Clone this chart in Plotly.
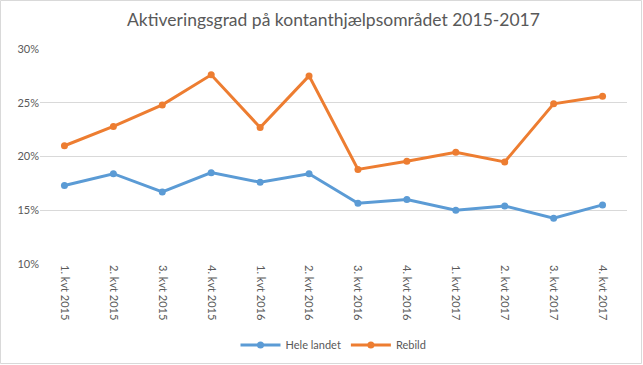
import plotly.graph_objects as go

categories = ["1. kvt 2015", "2. kvt 2015", "3. kvt 2015", "4. kvt 2015",
              "1. kvt 2016", "2. kvt 2016", "3. kvt 2016", "4. kvt 2016",
              "1. kvt 2017", "2. kvt 2017", "3. kvt 2017", "4. kvt 2017"]
hele_landet = [0.173, 0.184, 0.167, 0.185, 0.176, 0.184, 0.1565, 0.160, 0.150, 0.154, 0.1425, 0.155]
rebild = [0.210, 0.228, 0.248, 0.276, 0.227, 0.275, 0.188, 0.1955, 0.204, 0.195, 0.249, 0.256]
y_ticks = [0.10, 0.15, 0.20, 0.25, 0.30]

W, H = 643, 365
ml, mr, mt, mb = 40, 16, 49, 101
pw, ph = W - ml - mr, H - mt - mb

fig = go.Figure()
fig.add_trace(go.Scatter(x=categories, y=hele_landet, name="Hele landet",
                         mode="lines+markers",
                         line=dict(color="#5B9BD5", width=3),
                         marker=dict(size=7, color="#5B9BD5")))
fig.add_trace(go.Scatter(x=categories, y=rebild, name="Rebild",
                         mode="lines+markers",
                         line=dict(color="#ED7D31", width=3),
                         marker=dict(size=7, color="#ED7D31")))

fig.update_layout(
    width=W, height=H,
    margin=dict(l=ml, r=mr, t=mt, b=mb, autoexpand=False),
    paper_bgcolor="white", plot_bgcolor="white",
    font=dict(family="Lato, Calibri, sans-serif", color="#595959", size=11),
    title=dict(text="Aktiveringsgrad på kontanthjælpsområdet 2015-2017",
               x=0.5, xref="paper", xanchor="center", y=1 - 20 / H, yanchor="middle",
               font=dict(size=17.5, color="#595959")),
    xaxis=dict(type="category", range=[-0.5, 11.5], tickangle=90,
               showgrid=False, showline=False, ticks="", automargin=False,
               tickfont=dict(size=11, color="#595959")),
    yaxis=dict(range=[0.10, 0.30], tickvals=y_ticks, tickformat=".0%",
               showgrid=True, gridcolor="#D9D9D9", gridwidth=1,
               zeroline=False, showline=False, ticks="", automargin=False,
               tickfont=dict(size=11, color="#595959")),
    legend=dict(orientation="h", x=0.5, xanchor="center",
                y=-(345 - mt - ph) / ph, yanchor="middle",
                font=dict(size=11, color="#595959"), itemwidth=40),
    showlegend=True,
)

# chart outer border
fig.add_shape(type="rect", xref="paper", yref="paper",
              x0=(0.5 - ml) / pw, x1=(W - 1.5 - ml) / pw,
              y0=-(H - 1.5 - mt - ph) / ph, y1=1 + (mt - 0.5) / ph,
              line=dict(color="#D9D9D9", width=1))

fig.write_html("out.html", config={"displayModeBar": False},
               post_script="document.body.style.margin='0';")
